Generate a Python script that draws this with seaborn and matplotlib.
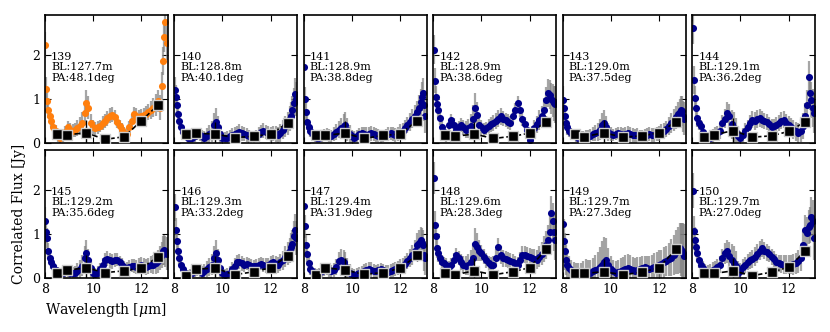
import matplotlib.pyplot as plt
import seaborn as sns
import pandas as pd

sns.set_style("ticks")
plt.rcParams['font.family'] = ['DejaVu Serif']
plt.rcParams['mathtext.fontset'] = 'dejavuserif'
plt.rcParams['axes.edgecolor'] = 'black'
plt.rcParams['axes.labelcolor'] = 'black'
plt.rcParams['text.color'] = 'black'
plt.rcParams['xtick.color'] = 'black'
plt.rcParams['ytick.color'] = 'black'

# spectral grid [micron]
wave = [8.02, 8.06, 8.10, 8.15, 8.20, 8.27, 8.35, 8.45, 8.55, 8.65,
        8.75, 8.85, 8.95, 9.05, 9.15, 9.25, 9.35, 9.45, 9.55, 9.65,
        9.72, 9.80, 9.90, 10.0, 10.1, 10.2, 10.3, 10.4, 10.5, 10.6,
        10.7, 10.8, 10.9, 11.0, 11.1, 11.2, 11.3, 11.4, 11.5, 11.6,
        11.7, 11.8, 11.9, 12.0, 12.1, 12.2, 12.3, 12.4, 12.5, 12.6,
        12.7, 12.78, 12.85, 12.9, 12.95, 13.0, 13.05]

# typical error per channel
err_profile = [0.30, 0.26, 0.22, 0.18, 0.16, 0.14, 0.12, 0.12, 0.12, 0.12,
               0.12, 0.13, 0.14, 0.14, 0.15, 0.16, 0.18, 0.20, 0.24, 0.28,
               0.30, 0.26, 0.20, 0.15, 0.14, 0.14, 0.14, 0.15, 0.16, 0.17,
               0.17, 0.17, 0.16, 0.15, 0.15, 0.14, 0.14, 0.14, 0.15, 0.15,
               0.16, 0.16, 0.16, 0.17, 0.17, 0.18, 0.18, 0.20, 0.22, 0.24,
               0.26, 0.28, 0.30, 0.32, 0.34, 0.36, 0.38]

# binned points
sq_wave = [8.5, 8.9, 9.7, 10.5, 11.3, 12.0, 12.7]
sq_err = [0.08, 0.08, 0.28, 0.06, 0.08, 0.10, 0.12]

obs_id = [139, 140, 141, 142, 143, 144, 145, 146, 147, 148, 149, 150]
baseline = [127.7, 128.8, 128.9, 128.9, 129.0, 129.1, 129.2, 129.3, 129.4, 129.6, 129.7, 129.7]
pos_angle = [48.1, 40.1, 38.8, 38.6, 37.5, 36.2, 35.6, 33.2, 31.9, 28.3, 27.3, 27.0]
err_scale = [1.0, 1.0, 1.0, 1.1, 1.0, 1.2, 1.0, 1.0, 1.0, 1.2, 1.9, 1.3]

flux_139 = [2.22, 1.23, 0.95, 0.75, 0.60, 0.50, 0.37, 0.28, 0.15, 0.10,
            0.15, 0.25, 0.36, 0.30, 0.28, 0.30, 0.33, 0.38, 0.45, 0.68,
            0.90, 0.80, 0.45, 0.36, 0.33, 0.35, 0.38, 0.45, 0.50, 0.56,
            0.62, 0.64, 0.58, 0.48, 0.38, 0.30, 0.22, 0.20, 0.35, 0.50,
            0.66, 0.62, 0.58, 0.60, 0.63, 0.66, 0.70, 0.74, 0.80, 0.86,
            0.95, 0.80, 1.30, 1.85, 2.40, 2.75, 2.27]
flux_140 = [1.20, 1.05, 0.86, 0.65, 0.50, 0.35, 0.25, 0.18, 0.12, 0.10,
            0.12, 0.15, 0.20, 0.18, 0.15, 0.12, 0.15, 0.20, 0.25, 0.40,
            0.48, 0.35, 0.20, 0.12, 0.10, 0.12, 0.15, 0.18, 0.20, 0.22,
            0.25, 0.22, 0.20, 0.18, 0.15, 0.13, 0.12, 0.15, 0.20, 0.25,
            0.28, 0.25, 0.22, 0.20, 0.22, 0.20, 0.18, 0.22, 0.30, 0.38,
            0.45, 0.55, 0.62, 0.75, 0.90, 1.10, 1.00]
flux_141 = [1.72, 1.00, 0.71, 0.48, 0.36, 0.28, 0.22, 0.15, 0.12, 0.10,
            0.14, 0.18, 0.20, 0.17, 0.15, 0.20, 0.25, 0.30, 0.33, 0.38,
            0.40, 0.30, 0.20, 0.15, 0.12, 0.15, 0.20, 0.22, 0.20, 0.18,
            0.20, 0.22, 0.20, 0.18, 0.16, 0.14, 0.15, 0.18, 0.20, 0.22,
            0.20, 0.18, 0.20, 0.25, 0.28, 0.33, 0.40, 0.48, 0.55, 0.62,
            0.70, 0.80, 0.92, 1.05, 1.13, 0.85, 0.60]
flux_142 = [2.11, 1.41, 1.05, 0.88, 0.75, 0.56, 0.37, 0.25, 0.15, 0.40,
            0.52, 0.41, 0.30, 0.35, 0.41, 0.35, 0.30, 0.33, 0.38, 0.55,
            0.79, 0.64, 0.41, 0.35, 0.30, 0.33, 0.38, 0.42, 0.45, 0.50,
            0.55, 0.60, 0.55, 0.52, 0.48, 0.45, 0.60, 0.75, 0.90, 0.75,
            0.55, 0.42, 0.30, 0.07, 0.20, 0.33, 0.42, 0.52, 0.60, 0.75,
            0.98, 1.13, 1.09, 1.00, 0.95, 0.90, 0.88]
flux_143 = [0.98, 0.79, 0.60, 0.45, 0.35, 0.28, 0.22, 0.18, 0.15, 0.12,
            0.14, 0.15, 0.16, 0.15, 0.16, 0.20, 0.22, 0.25, 0.30, 0.40,
            0.45, 0.35, 0.25, 0.20, 0.18, 0.20, 0.22, 0.20, 0.18, 0.20,
            0.22, 0.20, 0.18, 0.17, 0.18, 0.16, 0.15, 0.17, 0.18, 0.20,
            0.18, 0.17, 0.20, 0.22, 0.25, 0.28, 0.32, 0.38, 0.45, 0.52,
            0.58, 0.65, 0.70, 0.75, 0.72, 0.60, 0.55]
flux_144 = [2.60, 1.43, 1.02, 0.79, 0.56, 0.45, 0.38, 0.25, 0.15, 0.08,
            0.10, 0.15, 0.20, 0.22, 0.26, 0.45, 0.55, 0.68, 0.60, 0.42,
            0.33, 0.25, 0.15, 0.10, 0.18, 0.28, 0.35, 0.45, 0.52, 0.50,
            0.55, 0.56, 0.52, 0.50, 0.48, 0.42, 0.37, 0.38, 0.41, 0.45,
            0.50, 0.52, 0.46, 0.41, 0.35, 0.30, 0.26, 0.22, 0.28, 0.38,
            0.60, 0.86, 1.50, 1.13, 0.98, 0.80, 0.67]
flux_145 = [1.30, 1.05, 0.90, 0.61, 0.45, 0.35, 0.28, 0.18, 0.12, 0.10,
            0.12, 0.14, 0.15, 0.12, 0.10, 0.12, 0.15, 0.20, 0.28, 0.45,
            0.56, 0.40, 0.22, 0.12, 0.08, 0.12, 0.20, 0.30, 0.41, 0.43,
            0.40, 0.38, 0.40, 0.41, 0.35, 0.30, 0.25, 0.22, 0.25, 0.28,
            0.26, 0.25, 0.28, 0.30, 0.28, 0.25, 0.27, 0.30, 0.30, 0.33,
            0.38, 0.45, 0.52, 0.62, 0.64, 0.60, 0.55]
flux_146 = [1.60, 1.09, 0.83, 0.61, 0.45, 0.30, 0.20, 0.10, 0.05, 0.08,
            0.12, 0.15, 0.18, 0.15, 0.12, 0.15, 0.20, 0.25, 0.30, 0.45,
            0.56, 0.40, 0.22, 0.12, 0.07, 0.08, 0.12, 0.20, 0.28, 0.35,
            0.37, 0.33, 0.30, 0.32, 0.30, 0.28, 0.26, 0.28, 0.30, 0.32,
            0.30, 0.28, 0.30, 0.33, 0.35, 0.32, 0.30, 0.35, 0.40, 0.48,
            0.56, 0.62, 0.71, 0.76, 0.94, 1.09, 0.90]
flux_147 = [1.62, 1.17, 0.75, 0.55, 0.33, 0.20, 0.15, 0.10, 0.08, 0.10,
            0.15, 0.18, 0.20, 0.17, 0.15, 0.18, 0.25, 0.38, 0.41, 0.35,
            0.28, 0.20, 0.12, 0.08, 0.06, 0.08, 0.10, 0.12, 0.15, 0.17,
            0.20, 0.18, 0.16, 0.15, 0.17, 0.20, 0.18, 0.15, 0.14, 0.16,
            0.18, 0.20, 0.22, 0.25, 0.28, 0.32, 0.38, 0.45, 0.52, 0.62,
            0.75, 0.80, 0.86, 0.80, 0.75, 0.52, 0.45]
flux_148 = [2.27, 1.20, 0.94, 0.67, 0.56, 0.45, 0.37, 0.33, 0.30, 0.25,
            0.30, 0.40, 0.52, 0.45, 0.37, 0.30, 0.28, 0.30, 0.35, 0.45,
            0.77, 0.70, 0.62, 0.56, 0.48, 0.40, 0.33, 0.30, 0.30, 0.45,
            0.71, 0.52, 0.45, 0.43, 0.41, 0.39, 0.37, 0.33, 0.30, 0.40,
            0.52, 0.52, 0.50, 0.48, 0.45, 0.43, 0.41, 0.48, 0.55, 0.65,
            0.75, 0.86, 1.05, 1.47, 1.28, 1.05, 0.86]
flux_149 = [1.22, 0.83, 0.60, 0.41, 0.30, 0.22, 0.18, 0.14, 0.12, 0.10,
            0.12, 0.14, 0.16, 0.14, 0.12, 0.15, 0.18, 0.20, 0.25, 0.30,
            0.35, 0.41, 0.30, 0.20, 0.15, 0.12, 0.14, 0.16, 0.18, 0.20,
            0.22, 0.20, 0.18, 0.16, 0.18, 0.20, 0.22, 0.24, 0.22, 0.20,
            0.22, 0.25, 0.28, 0.30, 0.32, 0.35, 0.38, 0.42, 0.46, 0.52,
            0.58, 0.62, 0.67, 0.64, 0.60, 0.56, 0.50]
flux_150 = [1.98, 1.07, 0.86, 0.70, 0.56, 0.41, 0.30, 0.22, 0.16, 0.14,
            0.16, 0.18, 0.20, 0.24, 0.30, 0.45, 0.56, 0.60, 0.50, 0.40,
            0.33, 0.26, 0.12, 0.15, 0.25, 0.30, 0.35, 0.40, 0.43, 0.48,
            0.55, 0.62, 0.67, 0.62, 0.58, 0.55, 0.48, 0.42, 0.35, 0.33,
            0.32, 0.30, 0.30, 0.30, 0.30, 0.31, 0.33, 0.38, 0.45, 0.75,
            1.09, 1.02, 1.15, 1.20, 1.39, 1.30, 0.90]

sq_139 = [0.20, 0.18, 0.23, 0.08, 0.14, 0.50, 0.86]
sq_140 = [0.20, 0.22, 0.20, 0.12, 0.15, 0.20, 0.45]
sq_141 = [0.17, 0.17, 0.22, 0.10, 0.17, 0.20, 0.50]
sq_142 = [0.18, 0.15, 0.20, 0.10, 0.15, 0.22, 0.48]
sq_143 = [0.20, 0.14, 0.23, 0.13, 0.16, 0.23, 0.48]
sq_144 = [0.13, 0.18, 0.28, 0.13, 0.16, 0.26, 0.48]
sq_145 = [0.12, 0.17, 0.23, 0.12, 0.16, 0.23, 0.47]
sq_146 = [0.05, 0.20, 0.22, 0.07, 0.14, 0.23, 0.50]
sq_147 = [0.07, 0.23, 0.18, 0.08, 0.12, 0.22, 0.51]
sq_148 = [0.10, 0.07, 0.16, 0.07, 0.14, 0.23, 0.66]
sq_149 = [0.10, 0.10, 0.14, 0.07, 0.13, 0.23, 0.65]
sq_150 = [0.12, 0.10, 0.16, 0.05, 0.13, 0.24, 0.61]

fluxes = [flux_139, flux_140, flux_141, flux_142, flux_143, flux_144,
          flux_145, flux_146, flux_147, flux_148, flux_149, flux_150]
squares = [sq_139, sq_140, sq_141, sq_142, sq_143, sq_144,
           sq_145, sq_146, sq_147, sq_148, sq_149, sq_150]

fig, axes = plt.subplots(2, 6, figsize=(8.3, 3.32), dpi=100, sharex=True, sharey=True)
fig.subplots_adjust(left=0.054, right=0.982, top=0.955, bottom=0.163, wspace=0.053, hspace=0.055)

for i, ax in enumerate(axes.flat):
    df = pd.DataFrame({"wave": wave, "flux": fluxes[i],
                       "err": [e * err_scale[i] for e in err_profile]})
    sq = pd.DataFrame({"wave": sq_wave, "flux": squares[i], "err": sq_err})

    ax.errorbar(df["wave"], df["flux"], yerr=df["err"], fmt='none',
                ecolor='0.5', elinewidth=1.6, alpha=0.7, zorder=1)
    col = '#ff7f0e' if i == 0 else '#00008b'
    sns.scatterplot(data=df, x="wave", y="flux", ax=ax, color=col, s=26,
                    linewidth=0, zorder=2, legend=False)

    ax.errorbar(sq["wave"], sq["flux"], yerr=sq["err"], fmt='none',
                ecolor='k', elinewidth=1, zorder=3)
    sns.lineplot(data=sq, x="wave", y="flux", ax=ax, color='k', linestyle='--',
                 lw=1.2, zorder=3)
    sns.scatterplot(data=sq, x="wave", y="flux", ax=ax, marker='s', s=55,
                    color='k', edgecolor='0.8', linewidth=1, zorder=4, legend=False)

    ax.text(0.05, 0.71, f"{obs_id[i]}\nBL:{baseline[i]:.1f}m\nPA:{pos_angle[i]:.1f}deg",
            transform=ax.transAxes, va='top', ha='left', fontsize=8, linespacing=1.05)

    ax.set_xlim(8, 13.1)
    ax.set_ylim(0, 2.9)
    ax.set_xticks([8, 10, 12])
    ax.set_yticks([0, 1, 2])
    ax.tick_params(direction='in', top=True, right=True, length=4, width=0.8, labelsize=9)
    for sp in ax.spines.values():
        sp.set_linewidth(1.2)
    ax.set_xlabel('')
    ax.set_ylabel('')

axes[1, 0].set_xlabel('Wavelength [$\\mu$m]', fontsize=10)
axes[1, 0].set_ylabel('Correlated Flux [Jy]', fontsize=10)

fig.savefig('out.png', dpi=100)
